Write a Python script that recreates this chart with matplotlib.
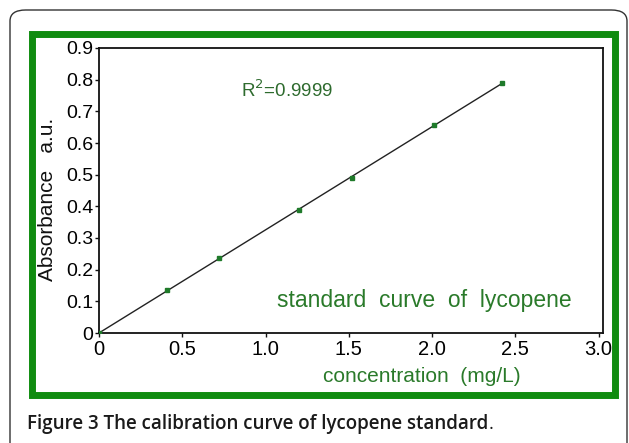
import numpy as np
import matplotlib
matplotlib.use("Agg")
import matplotlib.pyplot as plt
from matplotlib.patches import FancyBboxPatch, Rectangle

# data
conc = [0.0, 0.41, 0.72, 1.20, 1.52, 2.01, 2.42]
absorb = [0.0, 0.135, 0.237, 0.388, 0.49, 0.656, 0.79]
xticks = [0, 0.5, 1.0, 1.5, 2.0, 2.5, 3.0]
xticklabels = ["0", "0.5", "1.0", "1.5", "2.0", "2.5", "3.0"]
yticks = [0, 0.1, 0.2, 0.3, 0.4, 0.5, 0.6, 0.7, 0.8, 0.9]
yticklabels = ["0", "0.1", "0.2", "0.3", "0.4", "0.5", "0.6", "0.7", "0.8", "0.9"]
r2_text = "R$^2$=0.9999"
curve_label = "standard  curve  of  lycopene"
xlabel = "concentration  (mg/L)"
ylabel = "Absorbance   a.u."
caption_bold = "Figure 3 The calibration curve of lycopene standard"
caption_end = "."

W, H = 629, 443
fig = plt.figure(figsize=(W / 100, H / 100), dpi=100)
narrow = ["Liberation Sans", "DejaVu Sans"]

def fx(px):
    return px / W

def fy(py):
    return 1 - py / H

# outer rounded box (extends below the image)
outer = FancyBboxPatch((fx(10), fy(470)), fx(617), fy(10) - fy(470),
                       boxstyle="round,pad=0,rounding_size=0.025",
                       transform=fig.transFigure, fill=False,
                       edgecolor="#333333", linewidth=1.0)
fig.patches.append(outer)

# green frame
frame = Rectangle((fx(31.5), fy(395)), fx(583), fy(33.5) - fy(395),
                  transform=fig.transFigure, fill=False,
                  edgecolor="#108c10", linewidth=5.0)
fig.patches.append(frame)

ax = fig.add_axes([fx(99), fy(333), fx(603 - 99), fy(48) - fy(333)])
ax.set_xlim(0, 3.027)
ax.set_ylim(0, 0.9)

# fitted line
coef = np.polyfit(conc, absorb, 1)
xs = np.array([0.0, max(conc)])
ax.plot(xs, np.polyval(coef, xs), color="#222222", linewidth=1.0, zorder=2)
ax.plot(conc, absorb, linestyle="none", marker="s", markersize=3.5,
        color="#1f7a2a", zorder=3)

ax.set_xticks(xticks)
ax.set_xticklabels(xticklabels, fontsize=14.5, family=narrow)
ax.set_yticks(yticks)
ax.set_yticklabels(yticklabels, fontsize=14, family=narrow)
ax.tick_params(axis="both", direction="out", length=3, width=1, color="#111111")
ax.tick_params(axis="x", pad=2)
ax.tick_params(axis="y", pad=1)
for s in ax.spines.values():
    s.set_linewidth(1.3)
    s.set_color("#111111")

fig.text(fx(241), fy(90), r2_text, color="#2e6b2e", fontsize=13.5,
         family=narrow, va="center", ha="left")
fig.text(fx(277), fy(300), curve_label, color="#2a7a2a", fontsize=16.5,
         family=narrow, va="center", ha="left")
fig.text(fx(422), fy(377), xlabel, color="#2a7a2a", fontsize=15,
         family=narrow, va="center", ha="center")
fig.text(fx(48), fy(199), ylabel, color="#111111", fontsize=15,
         family=narrow, va="center", ha="center", rotation=90)

cap = fig.text(fx(27), fy(424), caption_bold, fontsize=13.5, fontweight="semibold",
               family=["Open Sans", "DejaVu Sans"], va="center", ha="left",
               color="#1a1a1a")
fig.canvas.draw()
bb = cap.get_window_extent()
fig.text(bb.x1 / W, fy(424), caption_end, fontsize=13.5,
         family=["Open Sans", "DejaVu Sans"], va="center", ha="left",
         color="#1a1a1a")

fig.savefig("out.png", dpi=100)
